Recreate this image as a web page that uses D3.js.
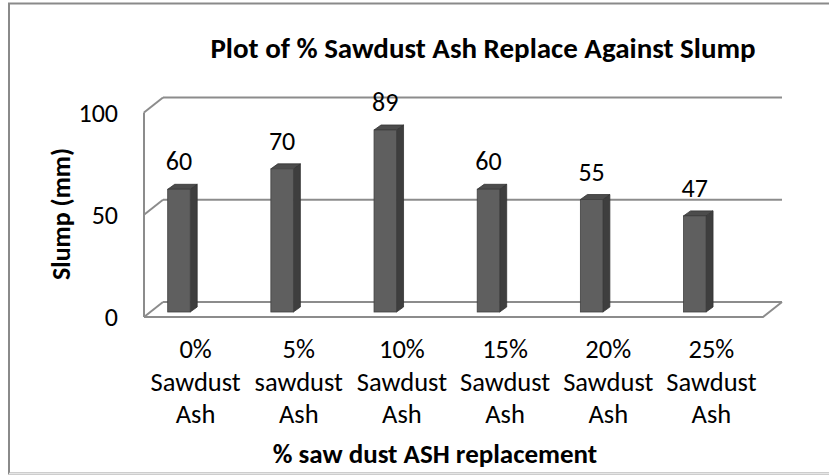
<!DOCTYPE html>
<html>
<head>
<meta charset="utf-8">
<script src="https://cdn.jsdelivr.net/npm/d3@7"></script>
<style>
  body { margin: 0; background: #fff; }
  text { font-family: Carlito, Lato, "Open Sans", sans-serif; fill: #000; }
</style>
</head>
<body>
<svg id="chart"></svg>
<script>
const categories = ["0% Sawdust Ash", "5% sawdust Ash", "10% Sawdust Ash", "15% Sawdust Ash", "20% Sawdust Ash", "25% Sawdust Ash"];
const categoryLines = [["0%", "Sawdust", "Ash"], ["5%", "sawdust", "Ash"], ["10%", "Sawdust", "Ash"], ["15%", "Sawdust", "Ash"], ["20%", "Sawdust", "Ash"], ["25%", "Sawdust", "Ash"]];
const slump = [60, 70, 89, 60, 55, 47];
const yTicks = [0, 50, 100];

const width = 829, height = 475;

// oblique 3d: back wall, front edge offset
const depthX = -19, depthY = 15;
const barShiftY = 10;            // bar front plane below back wall
const barW = 22.5, sideX = 7, sideY = 5;

const svg = d3.select("#chart").attr("width", width).attr("height", height);

// chart border
svg.append("rect")
  .attr("x", 9).attr("y", 3.5)
  .attr("width", width + 10).attr("height", 470)
  .attr("fill", "none").attr("stroke", "#8a8a8a").attr("stroke-width", 2);
svg.append("line")
  .attr("x1", 9).attr("x2", width).attr("y1", 473.5).attr("y2", 473.5)
  .attr("stroke", "#e6e6e6").attr("stroke-width", 1.5);

// scales on back wall
const y = d3.scaleLinear().domain([0, 100]).range([302, 97.5]);
const xBack = d3.scaleBand().domain(categories).range([163, 782]);
const xFront = d3.scaleBand().domain(categories).range([163 + depthX, 782 + depthX]);

const grid = svg.append("g").attr("stroke", "#8c8c8c").attr("stroke-width", 2).attr("fill", "none");
const [x0, x1] = xBack.range();

// back wall gridlines + left wall diagonals
yTicks.forEach(t => {
  grid.append("line").attr("x1", x0).attr("x2", x1).attr("y1", y(t)).attr("y2", y(t));
  grid.append("line").attr("x1", x0 + depthX).attr("y1", y(t) + depthY).attr("x2", x0).attr("y2", y(t));
});
// left wall front edge
grid.append("line")
  .attr("x1", x0 + depthX).attr("x2", x0 + depthX)
  .attr("y1", y(100) + depthY).attr("y2", y(0) + depthY);
// floor front edge and right edge
grid.append("path")
  .attr("d", `M${x0 + depthX},${y(0) + depthY}H${x1 + depthX}L${x1},${y(0)}`);

// y tick labels
svg.append("g").selectAll("text")
  .data(yTicks)
  .join("text")
  .attr("x", 118)
  .attr("y", d => y(d) + depthY)
  .attr("dy", "0.35em")
  .attr("text-anchor", "end")
  .style("font-size", "26px")
  .text(d => d);

// bars
const barOffset = 23.7;
const yb = v => y(v) + barShiftY;
const bars = svg.append("g").selectAll("g")
  .data(slump)
  .join("g")
  .attr("transform", (d, i) => `translate(${xFront(categories[i]) + barOffset},0)`);

bars.append("path") // side
  .attr("d", d => `M${barW},${yb(d)}L${barW + sideX},${yb(d) - sideY}V${yb(0) - sideY}L${barW},${yb(0)}Z`)
  .attr("fill", "#3e3e3e").attr("stroke", "#333").attr("stroke-width", 0.8);
bars.append("path") // top
  .attr("d", d => `M0,${yb(d)}L${sideX},${yb(d) - sideY}H${barW + sideX}L${barW},${yb(d)}Z`)
  .attr("fill", "#4c4c4c").attr("stroke", "#333").attr("stroke-width", 0.8);
bars.append("rect") // front
  .attr("x", 0).attr("width", barW)
  .attr("y", d => yb(d)).attr("height", d => yb(0) - yb(d))
  .attr("fill", "#5f5f5f").attr("stroke", "#404040").attr("stroke-width", 0.8);

// value labels
bars.append("text")
  .attr("x", barW / 2)
  .attr("y", d => yb(d) - sideY - 14)
  .attr("text-anchor", "middle")
  .style("font-size", "26px")
  .text(d => d);

// category labels
const labelY = [358, 391, 423];
svg.append("g").selectAll("text")
  .data(categoryLines)
  .join("text")
  .attr("text-anchor", "middle")
  .style("font-size", "26.5px")
  .attr("transform", (d, i) => `translate(${xFront(categories[i]) + xFront.bandwidth() / 2},0)`)
  .selectAll("tspan")
  .data(d => d)
  .join("tspan")
  .attr("x", 0)
  .attr("y", (d, j) => labelY[j])
  .text(d => d);

// titles
svg.append("text")
  .attr("x", 483).attr("y", 58)
  .attr("text-anchor", "middle")
  .style("font-size", "29px").style("font-weight", "bold")
  .text("Plot of % Sawdust Ash Replace Against Slump");

svg.append("text")
  .attr("transform", "translate(70,214) rotate(-90)")
  .attr("text-anchor", "middle")
  .style("font-size", "26px").style("font-weight", "bold")
  .text("Slump (mm)");

svg.append("text")
  .attr("x", 435).attr("y", 463)
  .attr("text-anchor", "middle")
  .style("font-size", "27px").style("font-weight", "bold")
  .text("% saw dust ASH replacement");
</script>
</body>
</html>
